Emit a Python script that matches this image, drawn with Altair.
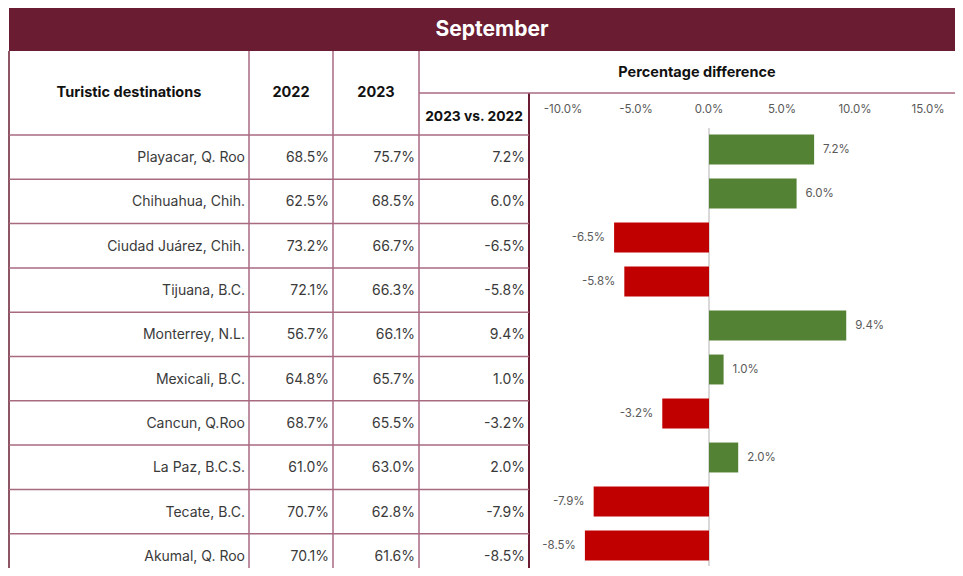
import altair as alt
import pandas as pd

# ---- data ----
destinations = ["Playacar, Q. Roo", "Chihuahua, Chih.", "Ciudad Juárez, Chih.", "Tijuana, B.C.",
                "Monterrey, N.L.", "Mexicali, B.C.", "Cancun, Q.Roo", "La Paz, B.C.S.",
                "Tecate, B.C.", "Akumal, Q. Roo"]
occ_2022 = [68.5, 62.5, 73.2, 72.1, 56.7, 64.8, 68.7, 61.0, 70.7, 70.1]
occ_2023 = [75.7, 68.5, 66.7, 66.3, 66.1, 65.7, 65.5, 63.0, 62.8, 61.6]
diff = [7.2, 6.0, -6.5, -5.8, 9.4, 1.0, -3.2, 2.0, -7.9, -8.5]
axis_ticks = [-10, -5, 0, 5, 10, 15]
title = "September"
col_titles = ["Turistic destinations", "2022", "2023"]
group_title = "Percentage difference"
sub_title = "2023 vs. 2022"

# ---- layout / style (chart pixel units) ----
W, H = 947, 560
FONT = "Inter"
MAROON = "#691C32"
LINE = "#A86A80"
TXT = "#3A3A3A"
GRAY = "#595959"
GREEN = "#548235"
RED = "#C00000"
col_edges = [1, 241, 325, 411, 521]
row_top, row_bottom = 127, 570
bar_range = [119.5, 559.5]
x_range = [555, 920]

def pct(expr):
    return f"replace(format({expr}, '.1f'), '\u2212', '-') + '%'"

df = pd.DataFrame({"dest": destinations, "y2022": occ_2022, "y2023": occ_2023, "diff": diff})
one = pd.DataFrame({"k": [0]})

row_scale = alt.Scale(domain=destinations, range=[row_top, row_bottom], paddingInner=0, paddingOuter=0)
bar_scale = alt.Scale(domain=destinations, range=bar_range, paddingInner=0.32, paddingOuter=0.16)
x_scale = alt.Scale(domain=[-10, 15], range=x_range, nice=False, zero=False)

layers = []

# header band
layers.append(alt.Chart(one).mark_rect(color=MAROON).encode(
    x=alt.value(1), x2=alt.value(W), y=alt.value(0), y2=alt.value(43)))
layers.append(alt.Chart(one).mark_text(color="white", font=FONT, fontSize=21, fontWeight="bold",
                                       align="center", baseline="middle").encode(
    x=alt.value(484), y=alt.value(22), text=alt.value(title)))

# inner vertical lines
for xv in col_edges[1:4]:
    layers.append(alt.Chart(one).mark_rule(color=LINE, strokeWidth=1.5).encode(
        x=alt.value(xv), y=alt.value(43), y2=alt.value(H)))
# left border
layers.append(alt.Chart(one).mark_rule(color=MAROON, strokeWidth=1.5).encode(
    x=alt.value(col_edges[0]), y=alt.value(43), y2=alt.value(H)))
# right border of table part
layers.append(alt.Chart(one).mark_rule(color=MAROON, strokeWidth=2).encode(
    x=alt.value(col_edges[4]), y=alt.value(85), y2=alt.value(H)))
# line under group header
layers.append(alt.Chart(one).mark_rule(color=LINE, strokeWidth=1.5).encode(
    x=alt.value(col_edges[3]), x2=alt.value(W), y=alt.value(85)))

# row lines
layers.append(alt.Chart(df).mark_rule(color=LINE, strokeWidth=1.5, clip=True).encode(
    y=alt.Y("dest:N", scale=row_scale, axis=None, bandPosition=0),
    x=alt.value(col_edges[0]), x2=alt.value(col_edges[4])))

# header texts
hdr = dict(font=FONT, fontWeight="bold", color="#111111", align="center", baseline="middle")
for txt, xv, yv, fs in [(col_titles[0], 121, 85, 14.5), (col_titles[1], 283, 85, 14.5),
                        (col_titles[2], 368, 85, 14.5), (group_title, 689, 65, 14.5),
                        (sub_title, 466, 108.5, 13.8)]:
    layers.append(alt.Chart(one).mark_text(fontSize=fs, **hdr).encode(
        x=alt.value(xv), y=alt.value(yv), text=alt.value(txt)))

# table cells
cell = dict(font=FONT, fontSize=14, color=TXT, align="right", baseline="middle", clip=True, dy=1)
ycell = alt.Y("dest:N", scale=row_scale, axis=None, bandPosition=0.5)
layers.append(alt.Chart(df).mark_text(**cell).encode(y=ycell, x=alt.value(237), text="dest:N"))
for field, xv in [("y2022", 321), ("y2023", 407), ("diff", 517)]:
    layers.append(alt.Chart(df).transform_calculate(
        lab=pct(f"datum.{field}")).mark_text(**cell).encode(
        y=ycell, x=alt.value(xv), text="lab:N"))

# axis tick labels
tick_df = pd.DataFrame({"t": axis_ticks})
layers.append(alt.Chart(tick_df).transform_calculate(lab=pct("datum.t")).mark_text(
    font=FONT, fontSize=11.5, color=GRAY, align="center", baseline="middle").encode(
    x=alt.X("t:Q", scale=x_scale, axis=None), y=alt.value(102), text="lab:N"))

# zero line
layers.append(alt.Chart(one).mark_rule(color="#D9D9D9", strokeWidth=2).encode(
    x=alt.X("z:Q", scale=x_scale, axis=None), y=alt.value(120), y2=alt.value(558)).transform_calculate(z="0"))

# bars
layers.append(alt.Chart(df).transform_calculate(zero="0").mark_bar(clip=True).encode(
    y=alt.Y("dest:N", scale=bar_scale, axis=None),
    x=alt.X("diff:Q", scale=x_scale, axis=None),
    x2="zero:Q",
    color=alt.condition("datum.diff >= 0", alt.value(GREEN), alt.value(RED))))

# bar labels
ybar = alt.Y("dest:N", scale=bar_scale, axis=None, bandPosition=0.5)
lab_style = dict(font=FONT, fontSize=11.5, color=GRAY, baseline="middle", clip=True)
layers.append(alt.Chart(df).transform_filter("datum.diff >= 0").transform_calculate(
    lab=pct("datum.diff")).mark_text(align="left", dx=9, **lab_style).encode(
    y=ybar, x=alt.X("diff:Q", scale=x_scale, axis=None), text="lab:N"))
layers.append(alt.Chart(df).transform_filter("datum.diff < 0").transform_calculate(
    lab=pct("datum.diff")).mark_text(align="right", dx=-9, **lab_style).encode(
    y=ybar, x=alt.X("diff:Q", scale=x_scale, axis=None), text="lab:N"))

chart = alt.layer(*layers).resolve_scale(x="independent", y="independent").properties(
    width=W, height=H, padding=0, autosize=alt.AutoSizeParams(type="none"),
    background="white").configure_view(stroke=None)

chart.save("out.html", embed_options={"renderer": "svg", "actions": False})
